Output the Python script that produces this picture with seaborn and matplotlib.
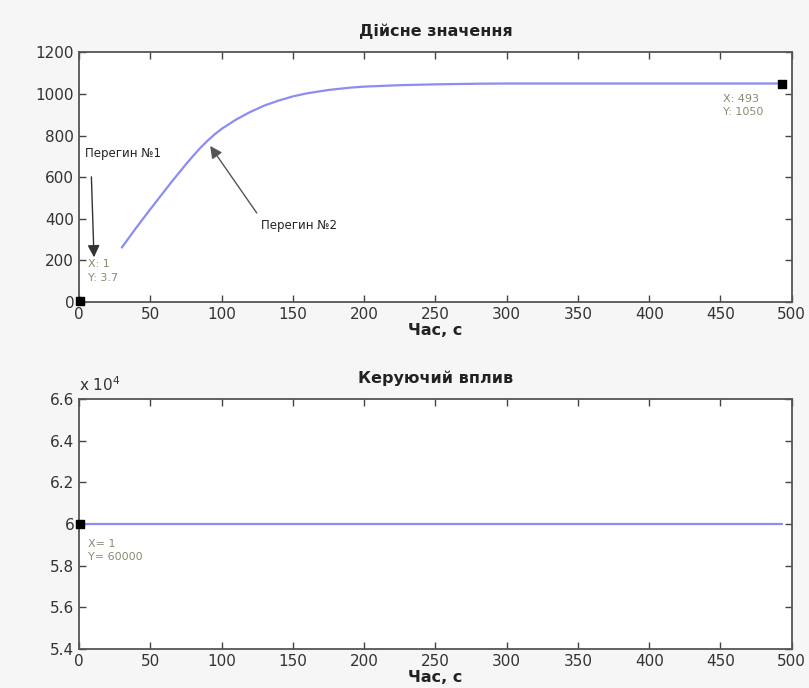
import matplotlib
matplotlib.use("Agg")
import matplotlib.pyplot as plt
import seaborn as sns
import pandas as pd
from matplotlib.ticker import FuncFormatter

# ---- data ----
t_actual = [30, 35, 40, 45, 50, 55, 60, 65, 70, 75, 80, 85, 90, 95, 100, 110, 120, 130,
            140, 150, 160, 175, 190, 200, 225, 250, 280, 300, 400, 493]
y_actual = [262, 309, 356, 401, 446, 490, 534, 578, 620, 662, 702, 740, 774, 805, 832, 876, 913, 944,
            968, 988, 1003, 1019, 1030, 1035, 1042, 1046, 1049, 1050, 1050, 1050]
t_control = [1, 100, 200, 300, 400, 493]
y_control = [60000, 60000, 60000, 60000, 60000, 60000]

tips_top_x = [1, 493]
tips_top_y = [3.7, 1050]
tips_bot_x = [1]
tips_bot_y = [60000]

x_ticks = [0, 50, 100, 150, 200, 250, 300, 350, 400, 450, 500]
y_ticks_top = [0, 200, 400, 600, 800, 1000, 1200]
y_ticks_bot = [54000, 56000, 58000, 60000, 62000, 64000, 66000]

title_top = "Дійсне значення"
title_bot = "Керуючий вплив"
xlabel = "Час, с"

sns.set_style("ticks")
plt.rcParams['font.family'] = ['DejaVu Sans']

fig = plt.figure(figsize=(8.09, 6.88), dpi=100, facecolor='#f6f6f6')
ax1 = fig.add_axes([0.0977, 0.561, 0.881, 0.363])
ax2 = fig.add_axes([0.0977, 0.0567, 0.881, 0.363])

line_color = '#8c8cf5'
tip_color = '#8a8a70'

df1 = pd.DataFrame({'t': t_actual, 'y': y_actual})
df2 = pd.DataFrame({'t': t_control, 'y': y_control})

sns.lineplot(data=df1, x='t', y='y', ax=ax1, color=line_color, linewidth=1.6)
sns.lineplot(data=df2, x='t', y='y', ax=ax2, color=line_color, linewidth=1.6)

ax1.scatter(tips_top_x, tips_top_y, marker='s', s=40, color='black', zorder=5, clip_on=False)
ax2.scatter(tips_bot_x, tips_bot_y, marker='s', s=40, color='black', zorder=5, clip_on=False)

for ax in (ax1, ax2):
    ax.set_facecolor('white')
    ax.set_xlim(0, 500)
    ax.set_xticks(x_ticks)
    ax.tick_params(direction='in', length=5, width=1, top=True, right=True,
                   colors='#444444', labelsize=11, labelcolor='#333333')
    for s in ax.spines.values():
        s.set_color('#555555')
        s.set_linewidth(1.3)
    ax.set_xlabel(xlabel, fontsize=11.5, fontweight='bold', color='#222222', labelpad=1)
    ax.set_ylabel('')

ax1.set_ylim(0, 1200)
ax1.set_yticks(y_ticks_top)
ax1.set_title(title_top, fontsize=11.5, fontweight='bold', color='#222222', pad=12)

ax2.set_ylim(54000, 66000)
ax2.set_yticks(y_ticks_bot)
ax2.yaxis.set_major_formatter(FuncFormatter(lambda v, p: f"{v/1e4:g}"))
ax2.set_title(title_bot, fontsize=11.5, fontweight='bold', color='#222222', pad=12)
ax2.text(0.0, 1.02, r"x 10$^4$", transform=ax2.transAxes, fontsize=11, color='#333333',
         ha='left', va='bottom')

# data tips
ax1.text(6, 205, "X: 1\nY: 3.7", fontsize=8, color=tip_color, va='top', ha='left', linespacing=1.4)
ax1.text(452, 1000, "X: 493\nY: 1050", fontsize=8, color=tip_color, va='top', ha='left', linespacing=1.4)
ax2.text(6, 59300, "X= 1\nY= 60000", fontsize=8, color=tip_color, va='top', ha='left', linespacing=1.4)

# annotations
ax1.annotate("Перегин №1", xy=(10.5, 215), xytext=(4, 715), fontsize=8.5, color='#222222',
             ha='left', va='center',
             arrowprops=dict(arrowstyle='-|>', color='#333333', lw=1, mutation_scale=18,
                             shrinkA=10, shrinkB=0, relpos=(0.08, 0)))
ax1.annotate("Перегин №2", xy=(92, 750), xytext=(128, 370), fontsize=8.5, color='#222222',
             ha='left', va='center',
             arrowprops=dict(arrowstyle='-|>', color='#555555', lw=1, mutation_scale=18,
                             shrinkA=2, shrinkB=0, relpos=(0, 0.9)))

fig.savefig("out.png", dpi=100, facecolor=fig.get_facecolor())
